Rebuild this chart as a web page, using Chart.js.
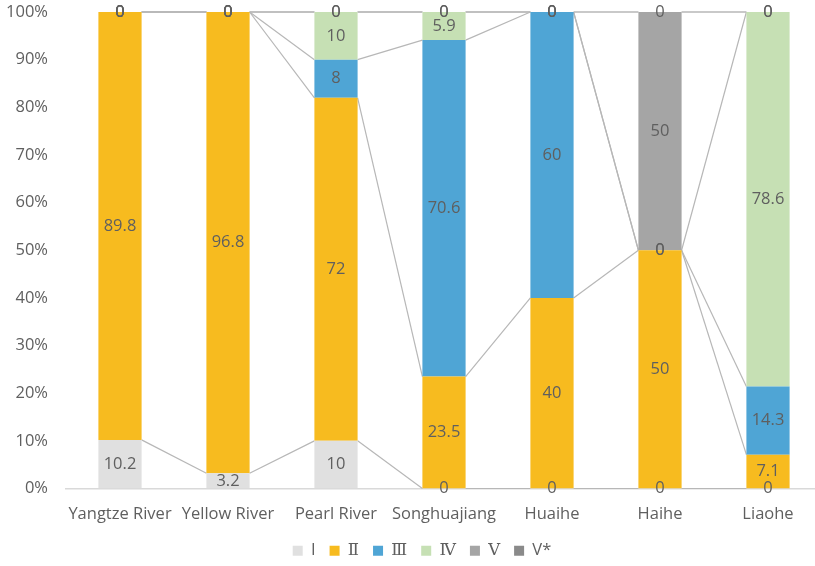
<!DOCTYPE html>
<html>
<head>
<meta charset="utf-8">
<script src="https://cdn.jsdelivr.net/npm/chart.js@4.4.1/dist/chart.umd.min.js"></script>
<style>
  html, body { margin: 0; padding: 0; background: #ffffff; overflow: hidden; }
  #wrap { width: 822px; height: 569px; }
</style>
</head>
<body>
<div id="wrap"><canvas id="c" width="822" height="569"></canvas></div>
<script>
// River basins and water-quality class shares (%)
const categories = ['Yangtze River', 'Yellow River', 'Pearl River', 'Songhuajiang', 'Huaihe', 'Haihe', 'Liaohe'];
const classNames = ['I', 'Ⅱ', 'Ⅲ', 'Ⅳ', 'Ⅴ', 'V*'];
const classI   = [10.2, 3.2, 10, 0, 0, 0, 0];
const classII  = [89.8, 96.8, 72, 23.5, 40, 50, 7.1];
const classIII = [0, 0, 8, 70.6, 60, 0, 14.3];
const classIV  = [0, 0, 10, 5.9, 0, 0, 78.6];
const classV   = [0, 0, 0, 0, 0, 50, 0];
const classVx  = [0, 0, 0, 0, 0, 0, 0];
const yTicks = [0, 10, 20, 30, 40, 50, 60, 70, 80, 90, 100];

const colors = ['#e0e0e0', '#f7bb1f', '#4fa5d5', '#c6e0b4', '#a5a5a5', '#8a8a8a'];
const seriesValues = [classI, classII, classIII, classIV, classV, classVx];

const FONT = "'Open Sans', 'DejaVu Serif', sans-serif";
const TEXT = '#5f5f5f';
const SIZE = 16.5;

// Connector lines between adjacent bars at the top of each stacked segment
const seriesLines = {
  id: 'seriesLines',
  beforeDatasetsDraw(chart) {
    const ctx = chart.ctx;
    const y = chart.scales.y;
    ctx.save();
    ctx.strokeStyle = '#b7b7b7';
    ctx.lineWidth = 1.2;
    chart.data.datasets.forEach((ds, d) => {
      const meta = chart.getDatasetMeta(d);
      for (let i = 0; i < categories.length - 1; i++) {
        let a = 0, b = 0;
        for (let k = 0; k <= d; k++) { a += seriesValues[k][i]; b += seriesValues[k][i + 1]; }
        const e1 = meta.data[i], e2 = meta.data[i + 1];
        ctx.beginPath();
        ctx.moveTo(e1.x + e1.width / 2, y.getPixelForValue(a));
        ctx.lineTo(e2.x - e2.width / 2, y.getPixelForValue(b));
        ctx.stroke();
      }
    });
    ctx.restore();
  }
};

// Value labels centred in each segment
const valueLabels = {
  id: 'valueLabels',
  afterDatasetsDraw(chart) {
    const ctx = chart.ctx;
    ctx.save();
    ctx.font = SIZE + 'px ' + FONT;
    ctx.fillStyle = TEXT;
    ctx.textAlign = 'center';
    ctx.textBaseline = 'middle';
    chart.data.datasets.forEach((ds, d) => {
      const meta = chart.getDatasetMeta(d);
      meta.data.forEach((el, i) => {
        const v = ds.data[i];
        ctx.fillText(String(v), el.x, (el.y + el.base) / 2);
      });
    });
    ctx.restore();
  }
};

new Chart(document.getElementById('c'), {
  type: 'bar',
  data: {
    labels: categories,
    datasets: seriesValues.map((vals, k) => ({
      label: classNames[k],
      data: vals,
      backgroundColor: colors[k],
      borderWidth: 0,
      categoryPercentage: 1,
      barPercentage: 0.4
    }))
  },
  plugins: [seriesLines, valueLabels],
  options: {
    responsive: false,
    animation: false,
    devicePixelRatio: 1,
    layout: { padding: { top: 12, left: 22, right: 0, bottom: 0 } },
    plugins: {
      tooltip: { enabled: false },
      legend: {
        position: 'bottom',
        labels: {
          boxWidth: 10,
          boxHeight: 10,
          padding: 14,
          color: TEXT,
          font: { family: FONT, size: SIZE }
        }
      }
    },
    scales: {
      x: {
        stacked: true,
        grid: { display: false, drawTicks: false },
        border: { display: true, color: '#d9d9d9', width: 1.5 },
        ticks: { color: TEXT, font: { family: FONT, size: SIZE }, padding: 16, maxRotation: 0, autoSkip: false },
        afterFit(axis) { axis.height = 40; axis.paddingLeft = 0; axis.paddingRight = 0; }
      },
      y: {
        stacked: true,
        min: 0,
        max: 100,
        afterBuildTicks(axis) { axis.ticks = yTicks.map(v => ({ value: v })); },
        grid: { display: false, drawTicks: false },
        border: { display: false },
        ticks: {
          color: TEXT,
          font: { family: FONT, size: SIZE },
          padding: 18,
          callback: v => v + '%'
        },
        afterFit(axis) {
          axis.width = 44;
          axis.paddingTop = 0;
          axis.paddingBottom = 0;
          // tick labels extend left of the axis box; draw them unclipped
          axis._computeLabelArea = () => undefined;
        }
      }
    }
  }
});
</script>
</body>
</html>
